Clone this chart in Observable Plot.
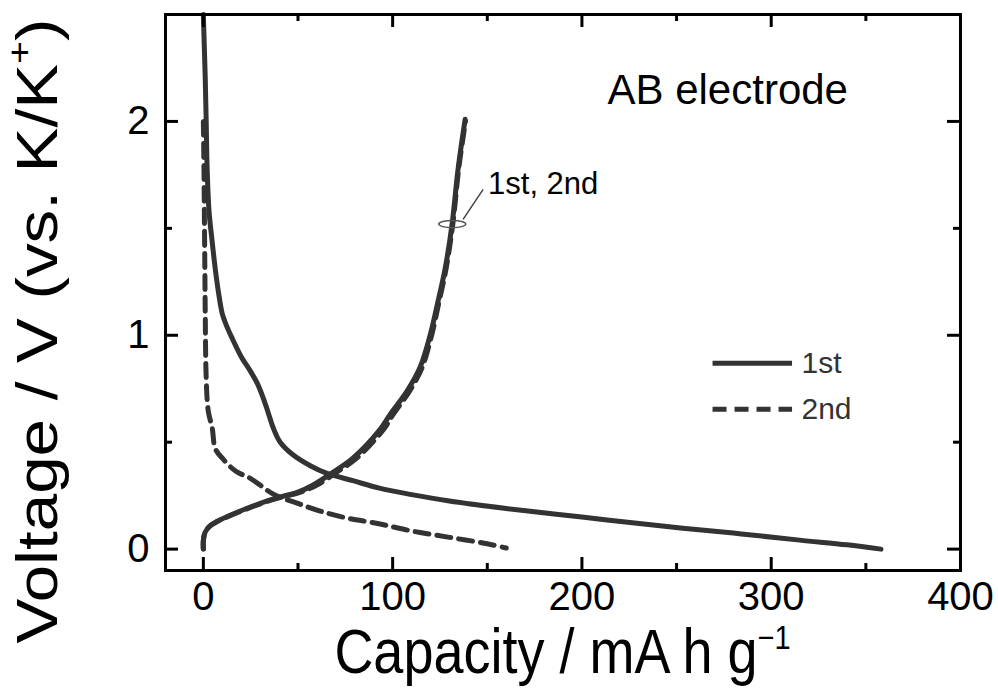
<!DOCTYPE html>
<html><head><meta charset="utf-8">
<script src="https://cdn.jsdelivr.net/npm/d3@7"></script>
<script src="https://cdn.jsdelivr.net/npm/@observablehq/plot@0.6"></script>
<style>
body{margin:0;background:#fff}
svg{font-family:"Liberation Sans",Arial,Helvetica,sans-serif}
</style>
</head><body><div id="chart"></div>
<script>
// ---- data ----
const dis1Cap = [0, 0.5, 1, 1.5, 2, 3, 4.5, 6.3, 8, 10, 12, 15, 20, 25, 28.5, 31.5, 34, 37, 40.6, 47.5, 56.5, 65, 79, 93, 110, 130, 160, 200, 240, 280, 315, 340, 358];
const dis1V   = [2.5, 2.35, 2.2, 2.0, 1.78, 1.58, 1.45, 1.31, 1.2, 1.1, 1.05, 0.99, 0.9, 0.83, 0.775, 0.71, 0.645, 0.565, 0.5, 0.44, 0.39, 0.355, 0.32, 0.285, 0.255, 0.225, 0.19, 0.15, 0.11, 0.075, 0.042, 0.02, 0.0];
const dis2Cap = [0, 0.3, 0.5, 0.8, 1, 1.5, 2.6, 4.7, 6.3, 10, 17, 25, 37, 49.5, 61.7, 76, 92, 110, 130, 150, 160];
const dis2V   = [2.0, 1.8, 1.6, 1.3, 1.1, 0.8, 0.645, 0.565, 0.47, 0.425, 0.365, 0.33, 0.257, 0.215, 0.178, 0.145, 0.12, 0.085, 0.055, 0.025, 0.005];
const chg1Cap = [0, 0, 1, 3.7, 7.4, 19.5, 37, 49.6, 58, 68.6, 79, 93.4, 98.7, 107.7, 114.5, 119.8, 124, 127.7, 131.4, 134.6, 138.3];
const chg1V   = [0, 0.04, 0.08, 0.11, 0.13, 0.178, 0.235, 0.265, 0.3, 0.36, 0.425, 0.56, 0.63, 0.74, 0.85, 1.0, 1.16, 1.31, 1.52, 1.78, 2.01];
const chg2Cap = [0, 0, 1, 3.7, 7.6, 20, 38, 51, 60, 70.5, 81, 95.2, 100.3, 109, 115.6, 120.6, 124.6, 128.2, 131.8, 134.9, 138.5];
const chg2V   = [0, 0.04, 0.08, 0.11, 0.13, 0.178, 0.235, 0.265, 0.3, 0.36, 0.425, 0.56, 0.63, 0.74, 0.85, 1.0, 1.16, 1.31, 1.52, 1.78, 2.0];

const xMajor = [0, 100, 200, 300, 400];
const xMinor = [50, 150, 250, 350];
const yMajor = [0, 1, 2];
const yMinor = [0.5, 1.5];
const xDomain = [-20, 400];
const yDomain = [-0.1, 2.5];

const legendNames = ["1st", "2nd"];
const legendX = [269, 311];
const legendY = [0.869, 0.654];
const legendLabelX = 316;

const titleText = "AB electrode";
const titlePos = [213.5, 2.145];
const annotText = "1st, 2nd";
const annotTextPos = [150.4, 1.706];
const annotLeader = [137.2, 1.542, 147.8, 1.682];
const annotEllipse = [131.5, 1.52];

// ---- layout ----
const W = 998, H = 688;
const mL = 165, mR = 38, mT = 14, mB = 118;
const fw = W - mL - mR, fh = H - mT - mB;
const col = "#333";
const sw = 5;
const dash = "14,8";

const toRows = (xs, ys) => xs.map((x, i) => ({x, y: ys[i]}));

// ellipse symbol drawn with bezier curves
const ellipseSymbol = {
  draw(ctx, size) {
    const rx = 13.5, ry = 3.6, k = 0.5523;
    ctx.moveTo(rx, 0);
    ctx.bezierCurveTo(rx, ry * k, rx * k, ry, 0, ry);
    ctx.bezierCurveTo(-rx * k, ry, -rx, ry * k, -rx, 0);
    ctx.bezierCurveTo(-rx, -ry * k, -rx * k, -ry, 0, -ry);
    ctx.bezierCurveTo(rx * k, -ry, rx, -ry * k, rx, 0);
    ctx.closePath();
  }
};

const plot = Plot.plot({
  width: W, height: H,
  marginLeft: mL, marginRight: mR, marginTop: mT, marginBottom: mB,
  x: {domain: xDomain},
  y: {domain: yDomain},
  marks: [
    // curves
    Plot.line(toRows(dis1Cap, dis1V), {x: "x", y: "y", stroke: col, strokeWidth: sw, curve: "catmull-rom"}),
    Plot.line(toRows(dis2Cap, dis2V), {x: "x", y: "y", stroke: col, strokeWidth: sw, strokeDasharray: dash, curve: "catmull-rom"}),
    Plot.line(toRows(chg2Cap, chg2V), {x: "x", y: "y", stroke: col, strokeWidth: sw, strokeDasharray: dash, curve: "catmull-rom"}),
    Plot.line(toRows(chg1Cap, chg1V), {x: "x", y: "y", stroke: col, strokeWidth: sw, curve: "catmull-rom"}),
    // frame
    Plot.frame({stroke: "#000", strokeWidth: 3}),
    // inward ticks: bottom & top
    Plot.tickX(xMajor, {x: d => d, insetTop: fh - 13, stroke: "#000", strokeWidth: 3}),
    Plot.tickX(xMajor, {x: d => d, insetBottom: fh - 13, stroke: "#000", strokeWidth: 3}),
    Plot.tickX(xMinor, {x: d => d, insetTop: fh - 7, stroke: "#000", strokeWidth: 3}),
    Plot.tickX(xMinor, {x: d => d, insetBottom: fh - 7, stroke: "#000", strokeWidth: 3}),
    // inward ticks: left & right
    Plot.tickY(yMajor, {y: d => d, insetRight: fw - 13, stroke: "#000", strokeWidth: 3}),
    Plot.tickY(yMajor, {y: d => d, insetLeft: fw - 13, stroke: "#000", strokeWidth: 3}),
    Plot.tickY(yMinor, {y: d => d, insetRight: fw - 7, stroke: "#000", strokeWidth: 3}),
    Plot.tickY(yMinor, {y: d => d, insetLeft: fw - 7, stroke: "#000", strokeWidth: 3}),
    // tick labels
    Plot.axisX({ticks: xMajor, tickSize: 0, tickPadding: 11, fontSize: 40, label: null, tickFormat: d => String(d)}),
    Plot.axisY({ticks: yMajor, tickSize: 0, tickPadding: 16, fontSize: 40, label: null, tickFormat: d => String(d)}),
    // legend
    Plot.link([legendNames[0]], {x1: () => legendX[0], x2: () => legendX[1], y1: () => legendY[0], y2: () => legendY[0],
      stroke: col, strokeWidth: sw}),
    Plot.link([legendNames[1]], {x1: () => legendX[0], x2: () => legendX[1], y1: () => legendY[1], y2: () => legendY[1],
      stroke: col, strokeWidth: sw, strokeDasharray: dash}),
    Plot.text(legendNames, {x: () => legendLabelX, y: (d, i) => legendY[i], text: d => d, textAnchor: "start", fontSize: 30, fill: col}),
    // title inside
    Plot.text([titleText], {x: () => titlePos[0], y: () => titlePos[1], text: d => d, textAnchor: "start", fontSize: 42, fill: "#000"}),
    // annotation
    Plot.text([annotText], {x: () => annotTextPos[0], y: () => annotTextPos[1], text: d => d, textAnchor: "start", fontSize: 31, fill: "#000"}),
    Plot.link([annotLeader], {x1: d => d[0], y1: d => d[1], x2: d => d[2], y2: d => d[3], stroke: "#444", strokeWidth: 1.5}),
    Plot.dot([annotEllipse], {x: d => d[0], y: d => d[1], symbol: ellipseSymbol, r: 10, stroke: "#555", fill: "none", strokeWidth: 1.5})
  ]
});

// axis titles with superscripts
const svg = d3.select(plot);
const xt = svg.append("text")
  .attr("transform", `translate(${mL + fw / 2},673) scale(1,1.15)`)
  .attr("text-anchor", "middle").attr("font-size", 54).attr("fill", "#000");
xt.append("tspan").text("Capacity / mA h g");
xt.append("tspan").attr("font-size", 29).attr("dy", -21).text("\u22121");

const yt = svg.append("text")
  .attr("transform", `translate(57,331) scale(1,1.16) rotate(-90)`)
  .attr("text-anchor", "middle").attr("font-size", 58).attr("fill", "#000");
yt.append("tspan").text("Voltage / V (vs. K/K");
yt.append("tspan").attr("font-size", 34).attr("dy", -26).text("+");
yt.append("tspan").attr("dy", 26).text(")");

document.getElementById("chart").appendChild(plot);
</script>
</body></html>
